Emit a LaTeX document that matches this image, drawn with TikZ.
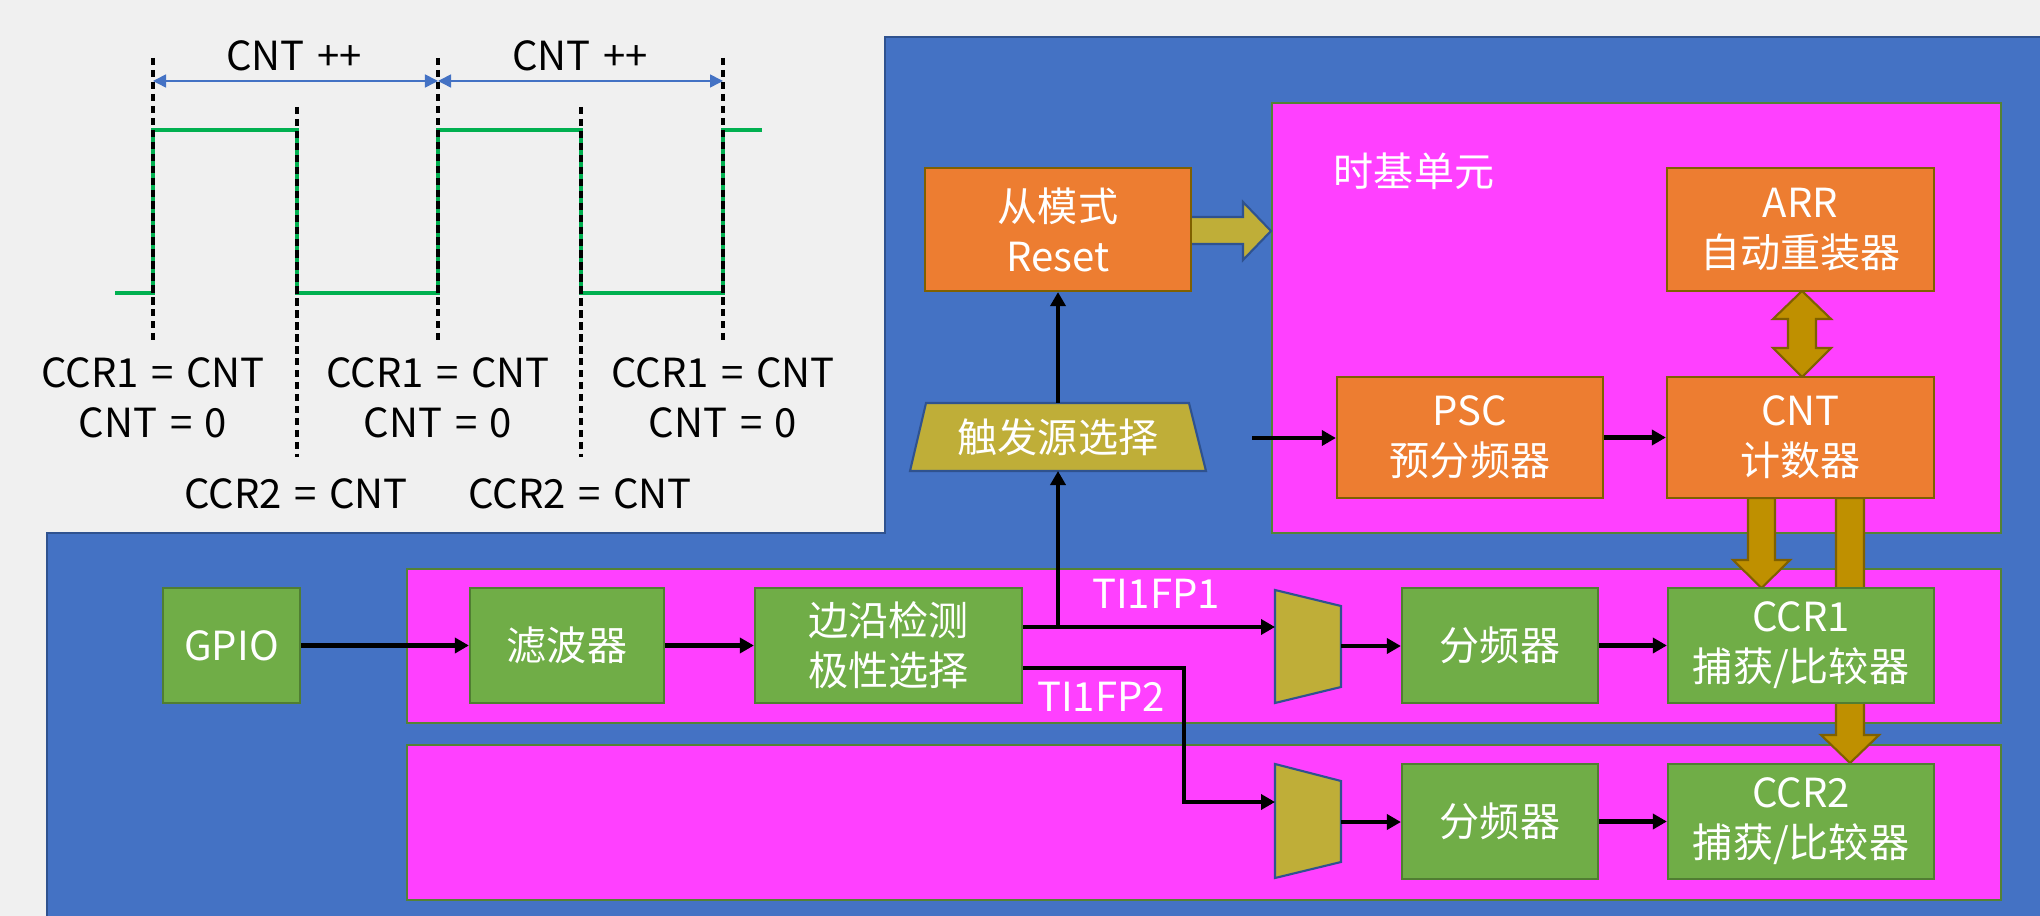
\documentclass[tikz,border=0pt]{standalone}
\usepackage{fontspec}
\setmainfont[WordSpace=1.4]{Noto Sans CJK SC}
\usetikzlibrary{arrows.meta}
\definecolor{bgc}{RGB}{240,240,240}
\definecolor{bluec}{RGB}{68,114,196}
\definecolor{blueb}{RGB}{47,82,143}
\definecolor{magc}{RGB}{255,64,255}
\definecolor{magb}{RGB}{84,130,53}
\definecolor{orc}{RGB}{237,125,49}
\definecolor{orb}{RGB}{127,96,0}
\definecolor{grc}{RGB}{112,173,71}
\definecolor{grb}{RGB}{80,126,50}
\definecolor{olc}{RGB}{191,174,56}
\definecolor{goc}{RGB}{191,144,0}
\definecolor{wavec}{RGB}{0,176,80}
\begin{document}
\begin{tikzpicture}[x=0.01cm,y=-0.01cm,
  every node/.style={font=\fontsize{11.4}{14.2}\selectfont, inner sep=0pt},
  obox/.style={draw=orb, fill=orc, line width=0.6pt, text=white, align=center},
  gbox/.style={draw=grb, fill=grc, line width=0.6pt, text=white, align=center},
  panel/.style={draw=magb, fill=magc, line width=0.6pt},
  olshape/.style={draw=blueb, fill=olc, line width=0.6pt},
  goshape/.style={draw=orb, fill=goc, line width=0.6pt},
  conn/.style={line width=1.3pt, -{Triangle[length=0.14cm,width=0.15cm]}},
  lbl/.style={text=black, align=center},
  wlbl/.style={text=white, align=center},
  tick/.style={line width=0.95pt, dash pattern=on 2.1pt off 1.3pt},
  span/.style={draw=bluec, line width=0.45pt, {Triangle[length=0.13cm,width=0.13cm]}-{Triangle[length=0.13cm,width=0.13cm]}},
  wave/.style={draw=wavec, line width=1.4pt}
]
\useasboundingbox (0,0) rectangle (2040,916);
\fill[bgc] (0,0) rectangle (2040,916);
% blue area
\draw[fill=bluec, draw=blueb, line width=0.6pt] (885,37) -- (2041,37) -- (2041,917) -- (47,917) -- (47,533) -- (885,533) -- cycle;
% panels
\draw[panel] (1272,103) rectangle (2001,533);
\draw[panel] (407,569) rectangle (2001,723);
\draw[panel] (407,745) rectangle (2001,900);
\node[wlbl] (tb) at (1414,171) {时基单元};

% ---------- waveform panel ----------
\draw[wave] (115,293) -- (153,293) -- (153,130) -- (297,130) -- (297,293) -- (438,293) -- (438,130) -- (581,130) -- (581,293) -- (723,293) -- (723,130) -- (762,130);
\coordinate (t1) at (153,58);  \coordinate (t1b) at (153,341);
\coordinate (t2) at (297,107); \coordinate (t2b) at (297,457);
\coordinate (t3) at (438,58);  \coordinate (t3b) at (438,341);
\coordinate (t4) at (581,107); \coordinate (t4b) at (581,457);
\coordinate (t5) at (723,58);  \coordinate (t5b) at (723,341);
\foreach \a in {1,...,5} \draw[tick] (t\a) -- (t\a b);
\coordinate (s1) at (153,81); \coordinate (s2) at (438,81); \coordinate (s3) at (723,81);
\draw[span] (s1) -- (s2);
\draw[span] (s2) -- (s3);
\node[lbl] (inc1) at (294,56) {CNT ++};
\node[lbl] (inc2) at (580,56) {CNT ++};
\node[lbl] (c1a) at (153,398) {CCR1 = CNT\\CNT = 0};
\node[lbl] (c1b) at (438,398) {CCR1 = CNT\\CNT = 0};
\node[lbl] (c1c) at (723,398) {CCR1 = CNT\\CNT = 0};
\node[lbl] (c2a) at (296,494) {CCR2 = CNT};
\node[lbl] (c2b) at (580,494) {CCR2 = CNT};

% ---------- gold block arrows (behind boxes) ----------
\draw[goshape] (1836,498) -- (1836,735) -- (1821,735) -- (1850,763) -- (1879,735) -- (1864,735) -- (1864,498) -- cycle;
\draw[goshape] (1748,498) -- (1748,560) -- (1733,560) -- (1761.5,588) -- (1790,560) -- (1775,560) -- (1775,498) -- cycle;
\draw[goshape] (1802,291) -- (1831,319) -- (1816,319) -- (1816,348) -- (1831,348) -- (1802,377) -- (1773,348) -- (1788,348) -- (1788,319) -- (1773,319) -- cycle;
\draw[olshape] (1190,217) -- (1243,217) -- (1243,202) -- (1271,231) -- (1243,260) -- (1243,244) -- (1190,244) -- cycle;

% ---------- boxes ----------
\node[obox, minimum width=2.66cm, minimum height=1.23cm] (slave) at (1058,229.5) {从模式\\Reset};
\node[obox, minimum width=2.67cm, minimum height=1.23cm] (arr) at (1800.5,229.5) {ARR\\自动重装器};
\node[obox, minimum width=2.66cm, minimum height=1.21cm] (psc) at (1470,437.5) {PSC\\预分频器};
\node[obox, minimum width=2.67cm, minimum height=1.21cm] (cnt) at (1800.5,437.5) {CNT\\计数器};

\node[gbox, minimum width=1.37cm, minimum height=1.15cm] (gpio) at (231.5,645.5) {GPIO};
\node[gbox, minimum width=1.94cm, minimum height=1.15cm] (filt) at (567,645.5) {滤波器};
\node[gbox, minimum width=2.67cm, minimum height=1.15cm] (edge) at (888.5,645.5) {边沿检测\\极性选择};
\node[gbox, minimum width=1.96cm, minimum height=1.15cm] (div1) at (1500,645.5) {分频器};
\node[gbox, minimum width=2.66cm, minimum height=1.15cm] (ccr1) at (1801,645.5) {CCR1\\捕获/比较器};
\node[gbox, minimum width=1.96cm, minimum height=1.15cm] (div2) at (1500,821.5) {分频器};
\node[gbox, minimum width=2.66cm, minimum height=1.15cm] (ccr2) at (1801,821.5) {CCR2\\捕获/比较器};

% trigger source selector
\draw[olshape] (910,471) -- (926,403) -- (1189,403) -- (1206,471) -- cycle;
\node[wlbl] (trig) at (1058,437) {触发源选择};
\coordinate (trigB) at (1058,471);
\coordinate (trigT) at (1058,403);

% multiplexers
\draw[olshape] (1275,590) -- (1341,606) -- (1341,687) -- (1275,703) -- cycle;
\draw[olshape] (1275,764) -- (1341,781) -- (1341,862) -- (1275,878) -- cycle;
\coordinate (m1in) at (1275,627);
\coordinate (m1out) at (1341,646);
\coordinate (m2in) at (1275,802);
\coordinate (m2out) at (1341,822);

% ---------- connectors ----------
\draw[conn] (gpio) -- (filt);
\draw[conn] (filt) -- (edge);
\coordinate (b1) at (1058,627);
\coordinate (b2) at (1184,668);
\coordinate (b3) at (1184,802);
\draw[conn] (edge.east |- b1) -- (m1in);
\draw[conn] (edge.east |- b2) -- (b2) -- (b3) -- (m2in);
\draw[conn] (b1) -- (trigB);
\draw[conn] (trigT) -- (slave.south);
\draw[conn] (m1out) -- (div1.west |- m1out);
\draw[conn] (m2out) -- (div2.west |- m2out);
\draw[conn] (div1) -- (ccr1);
\draw[conn] (div2) -- (ccr2);
\coordinate (clkin) at (1252,438);
\draw[conn] (clkin) -- (psc.west |- clkin);
\draw[conn] (psc) -- (cnt);

\node[wlbl] (fp1) at (1156,594) {TI1FP1};
\node[wlbl] (fp2) at (1101,697) {TI1FP2};
\end{tikzpicture}
\end{document}
